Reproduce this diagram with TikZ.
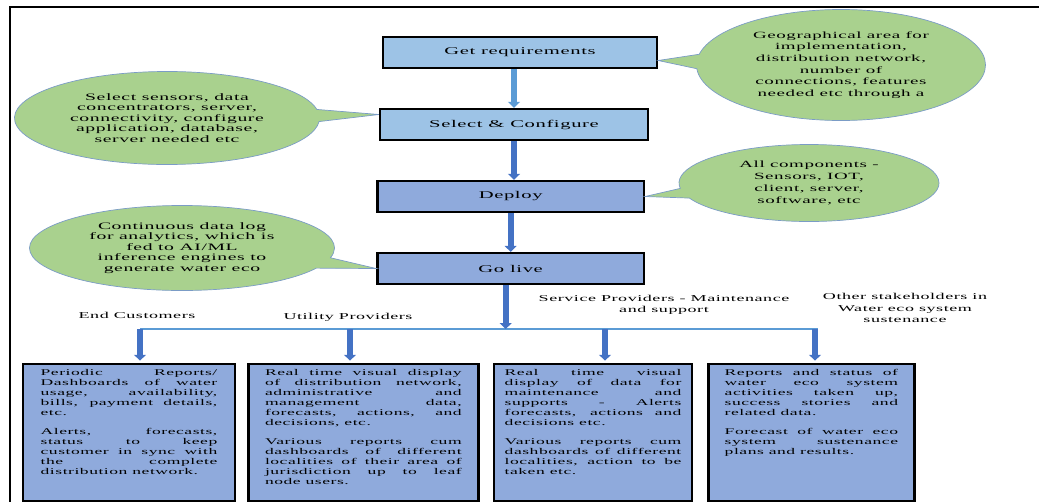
\documentclass[tikz,border=0pt]{standalone}
\usepackage{fontspec}
\setmainfont{Liberation Serif}[FakeStretch=2.0, LetterSpace=6]
\usepackage{tikz}
\usetikzlibrary{shapes, shapes.callouts, arrows.meta, positioning}

\definecolor{reqblue}{HTML}{9DC3E6}
\definecolor{liveblue}{HTML}{8FAADC}
\definecolor{notegreen}{HTML}{A9D18E}
\definecolor{noteline}{HTML}{7B9CC6}
\definecolor{flowblue}{HTML}{4472C4}
\definecolor{busblue}{HTML}{5B9BD5}

\newcommand{\boxtext}[2]{\parbox[t][3.8cm][t]{#1}{\hyphenpenalty=10000\tolerance=10000\fontsize{7.5}{8.6}\selectfont #2}}

\begin{document}
\begin{tikzpicture}[x=0.03cm, y=-0.03cm, node distance=2.16cm]

% Define block styles
\tikzstyle{stage} = [rectangle, minimum width=8cm, minimum height=0.93cm, text centered, draw=black, line width=2pt, font=\fontsize{8.8}{10}\selectfont]
\tikzstyle{note} = [ellipse callout, fill=notegreen, draw=noteline, line width=0.6pt, align=center, inner sep=0pt, font=\fontsize{8.4}{9}\selectfont]
\tikzstyle{outcome} = [rectangle, draw=black, line width=2pt, fill=liveblue, minimum height=4.11cm, inner xsep=0pt, inner ysep=0.15cm]
\tikzstyle{group} = [align=center, font=\fontsize{7.7}{9.8}\selectfont]
\tikzstyle{arrow} = [line width=5pt, draw=flowblue, -{Triangle[length=5pt,width=10pt]}]

\useasboundingbox (0,0) rectangle (1039,502);
\draw [line width=2pt] (1039,7) -- (10,7) -- (10,502);

% Define nodes
\node (getreq) [stage, fill=reqblue, minimum width=8.22cm] at (520,52.5) {Get requirements};
\node (select) [stage, fill=reqblue, below of = getreq, xshift=-0.18cm, minimum width=8.04cm] {Select \& Configure};
\node (deploy) [stage, fill=liveblue, below of = select, xshift=-0.1cm] {Deploy};
\node (golive) [stage, fill=liveblue, below of = deploy] {Go live};

\node (selnote) [note, minimum width=9.15cm, minimum height=2.79cm, callout absolute pointer={([yshift=0.3cm]select.west)}] at (167,118) {Select sensors, data\\concentrators, server,\\connectivity, configure\\application, database,\\server needed etc};
\node (livenote) [note, minimum width=9.15cm, minimum height=2.55cm, callout absolute pointer={(golive.west)}] at (182,248) {Continuous data log\\for analytics, which is\\fed to AI/ML\\inference engines to\\generate water eco};
\node (reqnote) [note, minimum width=8.67cm, minimum height=3.33cm, font=\fontsize{8.1}{10}\selectfont, callout absolute pointer={([yshift=-0.24cm]getreq.east)}] at (841,65) {Geographical area for\\implementation,\\distribution network,\\number of\\connections, features\\needed etc through a};
\node (depnote) [note, minimum width=7.8cm, minimum height=2.31cm, font=\fontsize{8.1}{10}\selectfont, callout absolute pointer={(deploy.east)}] at (809,183) {All components -\\Sensors, IOT,\\client, server,\\software, etc};

\node (endcust) [group] at (137,315) {End Customers};
\node (utility) [group] at (348,317) {Utility Providers};
\node (service) [group] at (664,305) {Service Providers - Maintenance\\and support};
\node (others) [group] at (905,308) {Other stakeholders in\\Water eco system\\sustenance};

\node (custbox) [outcome, anchor=north, minimum width=6.36cm] at (129,363) {\boxtext{5.3cm}{Periodic Reports/\linebreak Dashboards of water\linebreak usage, availability,\linebreak bills, payment details,\linebreak etc.\par\vspace{7.5pt}Alerts, forecasts,\linebreak status to keep\linebreak customer in sync with\linebreak the complete\linebreak distribution network.}};
\node (utilbox) [outcome, right=0.33cm of custbox, minimum width=6.9cm] {\boxtext{5.9cm}{Real time visual display\linebreak of distribution network,\linebreak administrative and\linebreak management data,\linebreak forecasts, actions, and\linebreak decisions, etc.\par\vspace{7.5pt}Various reports cum\linebreak dashboards of different\linebreak localities of their area of\linebreak jurisdiction up to leaf\linebreak node users.}};
\node (servbox) [outcome, right=0.4cm of utilbox, minimum width=5.94cm] {\boxtext{5.3cm}{Real time visual\linebreak display of data for\linebreak maintenance and\linebreak supports - Alerts\linebreak forecasts, actions and\linebreak decisions etc.\par\vspace{7.5pt}Various reports cum\linebreak dashboards of different\linebreak localities, action to be\linebreak taken etc.}};
\node (othbox) [outcome, right=0.42cm of servbox, minimum width=6.18cm] {\boxtext{5.2cm}{Reports and status of\linebreak water eco system\linebreak activities taken up,\linebreak success stories and\linebreak related data.\par\vspace{7.5pt}Forecast of water eco\linebreak system sustenance\linebreak plans and results.}};

\coordinate (busL) at (140,329);
\coordinate (busR) at (818,329);
\coordinate (tapA) at (140,329);
\coordinate (tapB) at (350,329);
\coordinate (tapC) at (605,329);
\coordinate (tapD) at (815,329);

% Draw arrows
\draw [arrow, draw=busblue] (select.north |- getreq.south) -- (select.north);
\draw [arrow] (select.south) -- (select.south |- deploy.north);
\draw [arrow] (deploy.south) -- (golive.north);
\draw [busblue, line width=1.5pt] (busL) -- (busR);
\draw [arrow] ([xshift=-0.15cm]golive.south) -- ([xshift=-0.15cm]golive.south |- busL);
\draw [arrow, shorten >=2pt] (tapA) -- (tapA |- custbox.north);
\draw [arrow, shorten >=2pt] (tapB) -- (tapB |- utilbox.north);
\draw [arrow, shorten >=2pt] (tapC) -- (tapC |- servbox.north);
\draw [arrow, shorten >=2pt] (tapD) -- (tapD |- othbox.north);

\end{tikzpicture}
\end{document}
